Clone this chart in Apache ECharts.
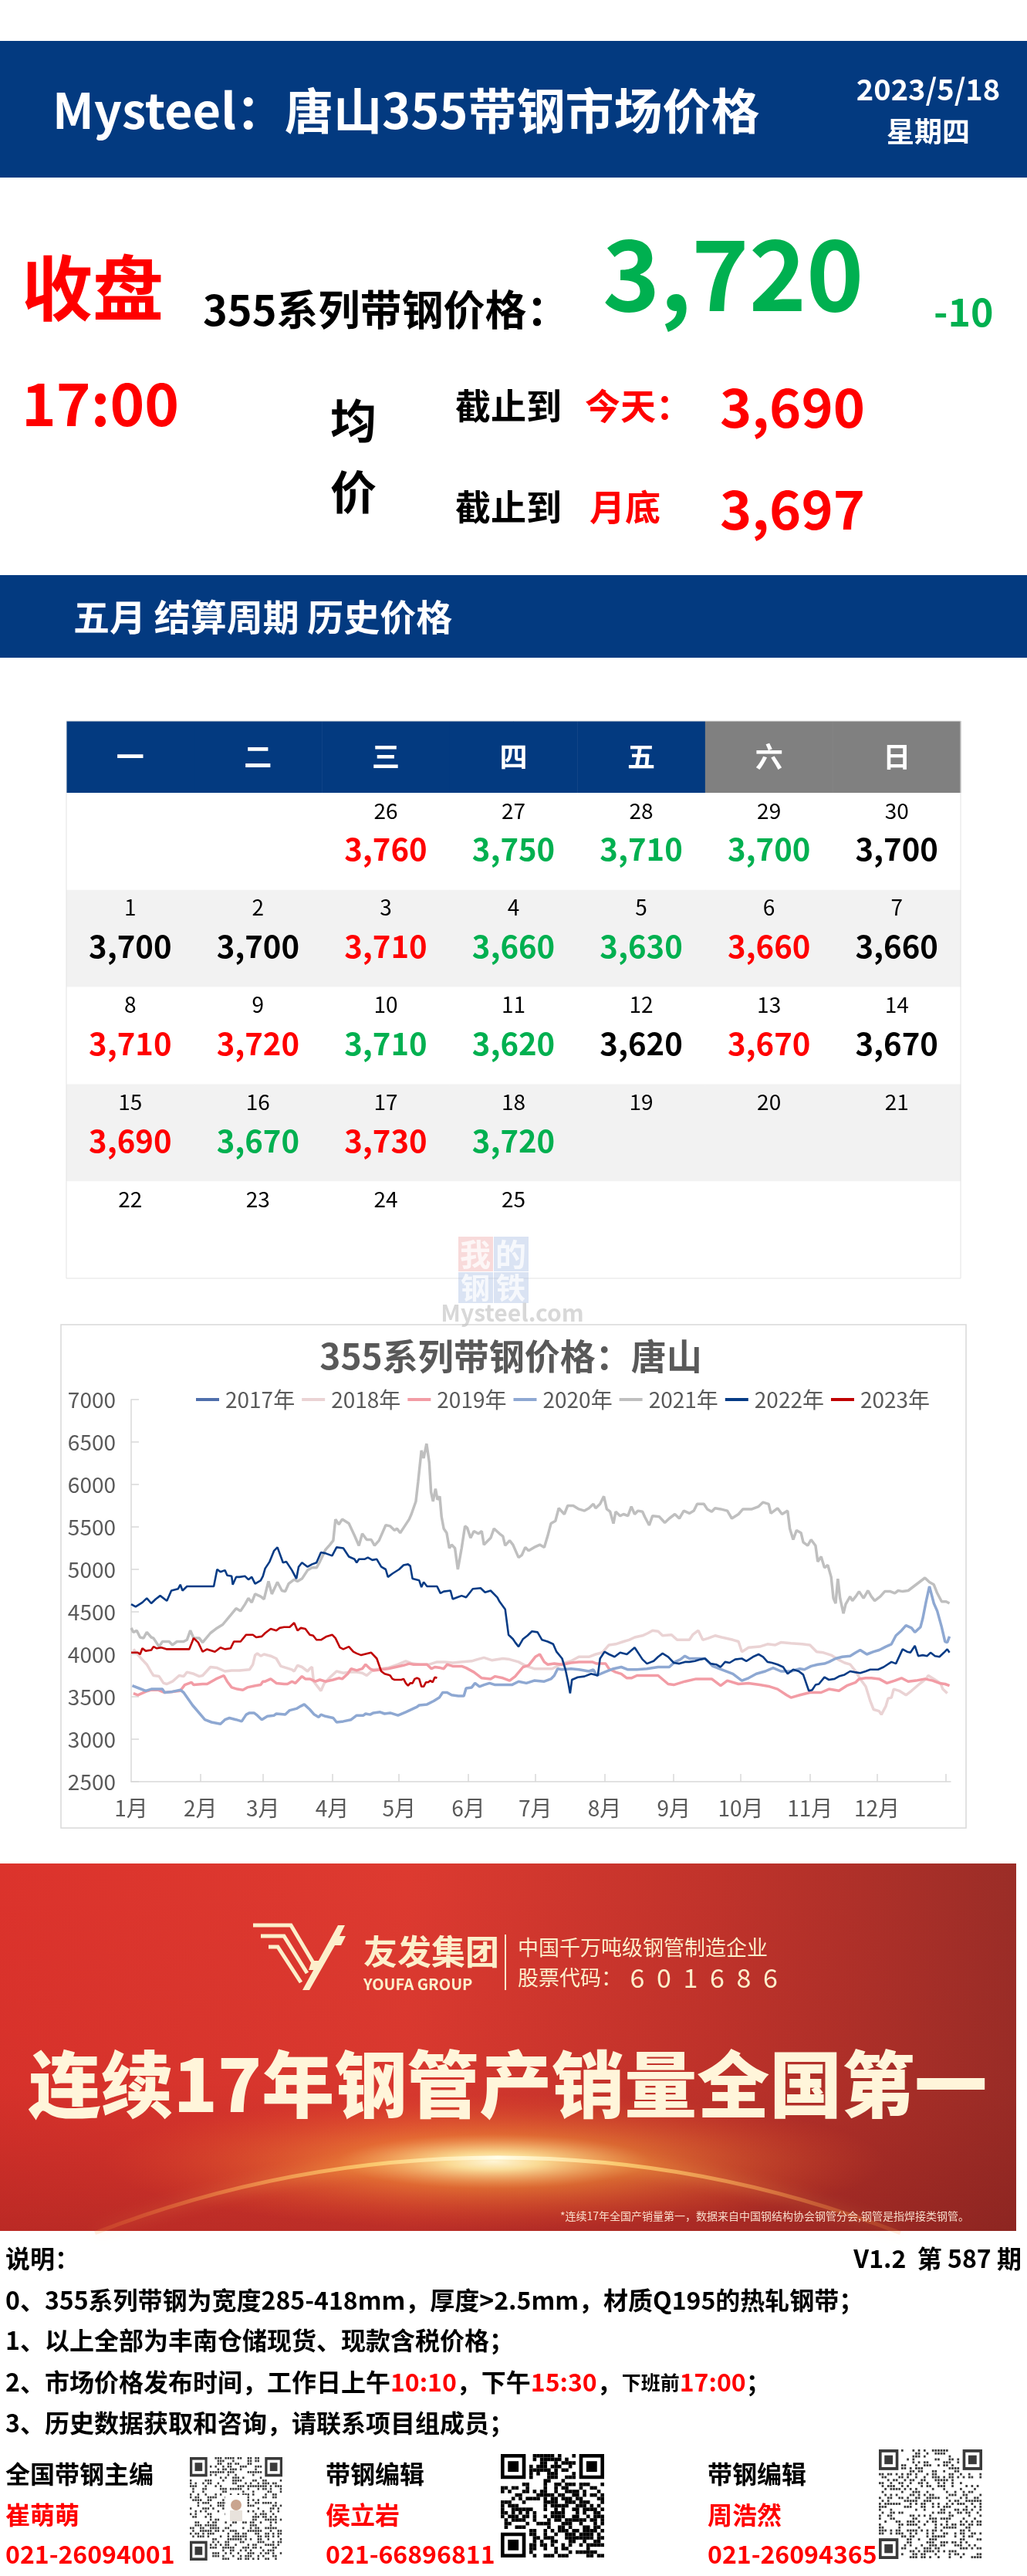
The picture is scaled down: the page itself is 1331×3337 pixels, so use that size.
<!DOCTYPE html>
<html><head><meta charset="utf-8">
<script src="https://cdn.jsdelivr.net/npm/echarts@6.0.0/dist/echarts.min.js"></script>
<style>html,body{margin:0;padding:0;background:#fff}#main{width:1331px;height:3337px}</style>
</head><body><div id="main"></div>
<script>
// ---------------- data ----------------
const weekdays = ['一','二','三','四','五','六','日'];
const calDays = ['','',26,27,28,29,30, 1,2,3,4,5,6,7, 8,9,10,11,12,13,14, 15,16,17,18,19,20,21, 22,23,24,25,'','',''];
const calValues = [null,null,3760,3750,3710,3700,3700, 3700,3700,3710,3660,3630,3660,3660, 3710,3720,3710,3620,3620,3670,3670, 3690,3670,3730,3720,null,null,null, null,null,null,null,null,null,null];
const calTrend = ['','','up','down','down','down','flat', 'flat','flat','up','down','down','up','flat', 'up','up','down','down','flat','up','flat', 'up','down','up','down','','','', '','','','','','',''];

const closePrice = 3720, closeChange = -10, avgToday = 3690, avgMonth = 3697;

const legendNames = ['2017年','2018年','2019年','2020年','2021年','2022年','2023年'];
const monthStarts = [0,31,59,90,120,151,181,212,243,273,304,334];
const monthLabels = ['1月','2月','3月','4月','5月','6月','7月','8月','9月','10月','11月','12月'];
const monthEnds = [31,59,90,120,151,181,212,243,273,304,334,365];

const s2017 = [];
const s2018 = [[1,4060],[4.5,3950],[7,3880],[9,3790],[10,3750],[12.5,3740],[14.5,3660],[16,3650],[18.5,3680],[21.5,3750],[23.5,3740],[25,3790],[28,3770],[30.5,3740],[32,3750],[35.5,3850],[38.5,3840],[42,3800],[45,3810],[48.5,3810],[53,3820],[54.5,3880],[55.5,3990],[56.5,4010],[58,3980],[59.5,4000],[62.5,3980],[65,3950],[67,3860],[69.5,3840],[72,3820],[73,3800],[74.5,3870],[76.5,3850],[79,3800],[80,3830],[81,3850],[81.7,3680],[83.5,3620],[85,3570],[86.5,3660],[89.5,3740],[92,3800],[95,3780],[98,3790],[101,3790],[103.5,3780],[105.5,3750],[108.5,3820],[112,3830],[115,3840],[119.5,3880],[123,3920],[126,3890],[129.5,3880],[133.5,3880],[137,3910],[140.5,3910],[144,3900],[147.5,3910],[152.5,3920],[155,3940],[158,3960],[161.5,3930],[166.5,3950],[169.5,3940],[173.5,3910],[177,3860],[180.5,3830],[185,3830],[188.5,3830],[193,3890],[197,3920],[200.5,3970],[205,3970],[208,4000],[211,4020],[213,4080],[214,4110],[217,4120],[220.5,4150],[223,4170],[225.5,4200],[229,4220],[231.5,4250],[233.5,4280],[236,4270],[238,4220],[242,4230],[244.5,4170],[250,4170],[251.5,4230],[254,4280],[256,4170],[258.5,4190],[261.5,4220],[264.5,4200],[269.5,4170],[272,4150],[273.5,4030],[276.5,4080],[281.5,4090],[285,4120],[288.5,4110],[291,4140],[295.5,4130],[300.5,4120],[304,4110],[307,4030],[310,4020],[313.5,3990],[316.5,3940],[319.5,3900],[322,3880],[324.5,3800],[326.5,3710],[329,3620],[331,3450],[332.5,3350],[335,3330],[336,3290],[338,3390],[339,3480],[340.5,3490],[341.5,3590],[344,3570],[347,3520],[349.5,3570],[353,3650],[356,3710],[357,3750],[359.5,3710],[362.5,3660],[363.5,3590],[365.5,3540]];
const s2019 = [[1,3540],[3,3520],[6.5,3560],[9,3580],[12,3580],[15,3550],[18.5,3560],[22,3570],[24,3640],[27,3670],[28,3640],[32,3650],[34,3650],[38,3710],[41.5,3750],[43,3680],[45,3610],[47.5,3590],[50,3580],[52,3610],[55.5,3630],[58,3640],[59,3680],[60,3680],[62.5,3710],[65,3660],[68.5,3650],[70,3650],[72,3680],[73.5,3660],[76.5,3740],[78,3710],[80,3710],[82.5,3680],[84.5,3700],[87,3680],[90.5,3700],[93,3720],[94.5,3710],[97,3770],[98.5,3830],[101,3810],[103.5,3830],[105,3880],[107,3830],[108.5,3810],[112,3820],[115,3830],[118.5,3850],[122,3870],[124.5,3890],[126.5,3880],[132.5,3880],[134.5,3830],[136,3850],[138.5,3840],[140,3830],[141.5,3880],[144,3860],[148,3860],[150,3840],[153.5,3790],[157,3720],[161,3710],[163,3740],[166.5,3720],[169.5,3690],[172,3740],[175.5,3850],[178,3870],[181,3970],[183,4000],[185,3910],[186.5,3880],[189.5,3890],[193,3880],[197,3900],[200.5,3910],[204,3910],[206.5,3910],[208.5,3890],[212.5,3890],[214,3830],[217,3790],[219.5,3770],[222,3720],[224,3720],[226.5,3750],[231,3750],[236,3750],[240.5,3650],[243,3640],[248,3680],[253,3710],[256.5,3710],[260,3710],[264,3630],[267,3690],[272,3650],[276.5,3660],[281.5,3640],[286,3620],[289.5,3590],[293.5,3520],[295.5,3490],[299.5,3520],[304,3550],[309,3550],[312.5,3590],[317,3570],[320.5,3630],[324.5,3670],[326,3710],[329,3720],[331.5,3720],[335,3710],[338.5,3660],[342,3690],[345,3720],[348,3680],[351.5,3690],[355.5,3710],[359,3690],[362,3660],[364.5,3650],[366.5,3630]];
const s2020 = [[0.5,3630],[3.5,3600],[6.5,3570],[9,3590],[12,3590],[14,3590],[15,3550],[18.5,3560],[22,3580],[23.5,3550],[27.5,3400],[33,3230],[36,3200],[40,3180],[42,3230],[44,3250],[47,3230],[49.5,3210],[51.5,3290],[53,3310],[55,3310],[56.5,3280],[58.5,3230],[61,3270],[64,3280],[65,3300],[69,3290],[71,3340],[74,3360],[76,3390],[77.5,3410],[80,3350],[82,3290],[84,3260],[85,3290],[87,3270],[90.5,3250],[92,3200],[95,3210],[98.5,3230],[101,3280],[104,3280],[105,3300],[107,3290],[108.5,3310],[111.5,3320],[113.5,3300],[116,3310],[119.5,3280],[123,3320],[128,3380],[129,3400],[132.5,3410],[135.5,3450],[138,3490],[139.5,3550],[141.5,3550],[143.5,3520],[146.5,3510],[149,3510],[150,3600],[152.5,3610],[154,3660],[156,3620],[158,3640],[160.5,3660],[163,3640],[166.5,3640],[170.5,3640],[173.5,3680],[177,3660],[180.5,3690],[185,3680],[188,3710],[189.5,3750],[191,3830],[193,3820],[197,3830],[200.5,3820],[205,3800],[207,3820],[208.5,3750],[212,3790],[216,3830],[219.5,3850],[222.5,3820],[226.5,3820],[231,3830],[236,3850],[241,3850],[243.5,3910],[246,3940],[248,3980],[250,3950],[253,3950],[257,3950],[260.5,3860],[264.5,3820],[269.5,3770],[273.5,3690],[276.5,3720],[280,3770],[284,3800],[287.5,3840],[291,3800],[295.5,3800],[299.5,3830],[301.5,3820],[304.5,3860],[307.5,3880],[310.5,3890],[312.5,3910],[315.5,3950],[318.5,3970],[322,3980],[324.5,4020],[326.5,4050],[329.5,4000],[332.5,4030],[335,4050],[338,4090],[340.5,4120],[342.5,4220],[345,4280],[347,4340],[349.5,4310],[351,4260],[353.5,4320],[354.5,4420],[356,4620],[357.5,4800],[359.5,4600],[361,4510],[363,4320],[364.5,4150],[365.5,4140],[366.5,4210]];
const s2021 = [[0,4310],[1,4260],[2.5,4280],[4,4200],[5.5,4190],[7,4260],[9,4200],[10,4190],[12.5,4090],[14,4150],[17,4150],[18.5,4110],[20.5,4150],[23.5,4150],[25,4170],[26.5,4280],[28,4190],[30.5,4190],[32,4140],[35.5,4250],[38.5,4310],[41,4350],[44.5,4460],[47,4540],[49,4510],[51,4590],[52.5,4660],[54,4610],[55.5,4710],[58,4680],[59.5,4650],[61.5,4860],[63,4710],[65.5,4850],[67.5,4750],[69,4740],[70.5,4830],[73,4880],[74.5,4860],[76.5,4890],[79,4990],[81,5020],[83,5020],[84.5,5090],[87,5230],[89,5290],[90.5,5340],[91.5,5590],[93,5530],[94.5,5590],[97.5,5540],[100,5400],[102,5280],[103.5,5420],[105.5,5350],[107.5,5350],[109,5280],[111,5340],[114,5520],[116,5510],[118,5460],[119,5480],[120.5,5430],[122,5490],[124.5,5590],[125.5,5650],[127.5,5800],[128.5,6030],[130,6400],[131,6310],[132.3,6480],[133.5,6260],[134.3,5910],[135.2,5800],[136.3,5950],[137.2,5820],[138.2,5860],[139,5620],[140,5480],[141.3,5430],[142.5,5250],[143.5,5290],[145,5250],[146.3,5000],[148,5250],[149.5,5510],[150.5,5490],[152,5370],[153.5,5450],[155.5,5420],[157,5450],[158,5290],[161,5370],[162.5,5480],[165,5420],[166.5,5390],[167.5,5280],[169.5,5340],[171,5290],[173.5,5140],[175,5170],[176.5,5260],[178,5220],[180.5,5260],[183,5290],[185,5260],[186.5,5390],[188,5540],[190,5570],[191.5,5720],[194,5650],[195.5,5750],[198,5750],[200.5,5710],[203,5690],[205,5720],[207,5770],[208,5720],[210,5770],[211.7,5860],[213,5710],[214.5,5680],[216,5540],[217,5680],[219,5630],[220.5,5650],[222.5,5630],[224,5740],[225.5,5650],[227,5690],[229,5680],[230,5620],[232,5520],[233.5,5630],[236.5,5620],[239,5550],[241,5600],[243.5,5650],[245.5,5600],[247.5,5690],[250,5660],[252,5690],[253.5,5770],[256.5,5770],[258,5710],[260,5680],[261.5,5720],[264,5710],[267,5690],[269,5600],[272,5650],[274,5710],[278,5710],[281,5740],[283,5790],[285.5,5770],[286.5,5660],[289.5,5720],[291.5,5650],[294,5690],[295,5480],[296.5,5350],[298,5460],[300,5430],[301,5320],[303,5280],[304.5,5350],[306.5,5280],[307.5,5090],[309,5150],[310.5,5020],[312,5050],[313.5,4910],[314.5,4660],[315.5,4600],[316.5,4890],[317.5,4660],[319,4480],[320,4590],[322,4680],[323,4630],[324.5,4680],[326,4740],[328,4660],[330,4750],[331.5,4680],[333,4630],[335.5,4680],[337.5,4740],[340,4740],[342,4720],[343.5,4750],[345.5,4740],[348,4750],[350.5,4800],[353,4850],[355.5,4900],[357.5,4850],[359.5,4820],[361,4720],[363,4620],[365,4620],[366.5,4600]];
const s2022 = [[0,4590],[2,4560],[5,4610],[7,4660],[9,4600],[11,4650],[13,4690],[16,4630],[18,4750],[21,4770],[22,4820],[23,4750],[25,4800],[28,4800],[37,4800],[38.5,5000],[40,4970],[42,4990],[43,4930],[45,4920],[45.5,4820],[47,4910],[48.5,4910],[51,4920],[52.5,4880],[54,4910],[55.5,4830],[58,4870],[59,4920],[60,5010],[62,5090],[64,5220],[65.5,5260],[68,5080],[69.5,5090],[72,4990],[74,4890],[75,5030],[76.5,5080],[79,5030],[81,5060],[83,5080],[85,5200],[87,5190],[90,5160],[92,5260],[95,5250],[97.5,5150],[100,5120],[101,5080],[102,5120],[104.5,5120],[106,5140],[108,5110],[110,5120],[112,5030],[114,5000],[115,4910],[117,4950],[120,5000],[122,5050],[124,5060],[125,5040],[126,4890],[129,4870],[130,4790],[131,4850],[132.5,4800],[137,4800],[138.5,4720],[140,4740],[143,4750],[144,4650],[146,4670],[148,4690],[150,4670],[153,4770],[156.5,4780],[158.5,4730],[161,4750],[164,4670],[165,4620],[167.5,4530],[169,4230],[171,4180],[172,4140],[173.5,4090],[175.5,4180],[177.5,4220],[179.5,4270],[182,4260],[184,4170],[186.5,4150],[189,4120],[190.5,4030],[193,3950],[194.5,3820],[195.7,3670],[196.6,3540],[197.4,3700],[200,3730],[203,3740],[206,3770],[209,3750],[210,3950],[212,4030],[214,4000],[216.5,3970],[219,4020],[222,4000],[225.5,4080],[229,3940],[231,3890],[234,3920],[236,3970],[238,4010],[240.5,3970],[243,3900],[245.5,3890],[248,3910],[250,3910],[252.5,3920],[255,3940],[257,3950],[259.5,3890],[262,3880],[264,3850],[266,3910],[268,3900],[270.5,3940],[273.5,3950],[275.5,3920],[278.5,3970],[281,4000],[283,3970],[285,3910],[287,3900],[289.5,3880],[292,3850],[294,3770],[296.5,3820],[299,3800],[301,3760],[303.5,3570],[305,3580],[306.5,3640],[308,3650],[310.5,3730],[312.5,3700],[315,3710],[317,3740],[319.5,3760],[322,3800],[324,3790],[326.5,3780],[329,3800],[331,3820],[334.5,3820],[337,3850],[340.5,3910],[342.5,3890],[345.5,4060],[347.5,4030],[349,4020],[351,4100],[352.5,3980],[354.5,3990],[356.5,3980],[358,4020],[360,3980],[362,3970],[364,4020],[365.5,4060],[366.5,4020]];
const s2023 = [[0,4020],[3,4020],[4,4000],[5,4070],[6.5,4040],[9,4050],[10,4090],[11.5,4070],[13.5,4080],[16,4060],[26,4060],[28,4190],[30,4140],[32,4030],[34,4060],[37.5,4030],[40,4080],[42,4060],[44.5,4070],[46,4150],[49,4150],[51.5,4230],[54.5,4230],[56,4200],[58.5,4210],[60,4250],[62.5,4300],[65,4280],[66.5,4310],[68.5,4320],[71,4320],[73,4370],[74.5,4280],[76,4310],[78,4300],[80,4230],[81.5,4220],[83,4170],[85,4170],[87.5,4210],[90,4230],[91.5,4190],[93.5,4080],[95,4060],[97.5,4090],[99.5,4030],[101,4010],[103,3990],[107.5,4020],[110,3950],[112,3800],[113.5,3770],[115,3760],[116,3750],[117,3710],[118,3700],[119,3700],[120,3700],[121,3700],[122,3710],[123,3660],[124,3630],[125,3660],[126,3660],[127,3710],[128,3720],[129,3710],[130,3620],[131,3620],[132,3670],[133,3670],[134,3690],[135,3670],[136,3730],[137,3720]];

// ---------------- helpers ----------------
const FONT = '"Noto Sans CJK SC","Noto Sans",sans-serif';
const BLUE = '#033A80', RED = '#FF0000', GREEN = '#00B050';
function txt(text, x, y, size, color, o) {
  o = o || {};
  const a = o.a || 'left';
  const st = {text: String(text), fill: color, font: (o.w || 'bold') + ' ' + size + 'px ' + FONT,
    textAlign: a, textVerticalAlign: 'middle', align: a, verticalAlign: 'middle'};
  if (o.rich) st.rich = o.rich;
  if (o.opacity != null) st.opacity = o.opacity;
  if (o.shadow) { st.shadowColor = o.shadow; st.shadowBlur = 6; st.shadowOffsetY = 2; }
  return {type: 'text', x: x, y: y, z: o.z != null ? o.z : 5, silent: true, style: st};
}
function rect(x, y, w, h, fill, o) {
  o = o || {};
  return {type: 'rect', z: o.z != null ? o.z : 1, silent: true, shape: {x: x, y: y, width: w, height: h},
    style: {fill: fill, stroke: o.stroke || null, lineWidth: o.lw || 0, opacity: o.opacity != null ? o.opacity : 1}};
}
function fmt(v) { return v.toLocaleString('en-US'); }
function hash(i, j, seed) {
  let h = Math.imul(i + 1, 374761393) ^ Math.imul(j + 7, 668265263) ^ Math.imul(seed, 2246822519);
  h = Math.imul(h ^ (h >>> 13), 1274126177);
  return ((h ^ (h >>> 16)) >>> 0) % 100;
}
function qr(x0, y0, w, h, n, color, seed, density, shrink) {
  const els = [];
  const mw = w / n, mh = h / n;
  const inF = (i, j) => (i < 8 && j < 8) || (i >= n - 8 && j < 8) || (i < 8 && j >= n - 8);
  for (let i = 0; i < n; i++) for (let j = 0; j < n; j++) {
    if (inF(i, j)) continue;
    if (hash(i, j, seed) < density) {
      els.push(rect(x0 + i * mw, y0 + j * mh, mw * shrink, mh * shrink, color, {z: 6}));
    }
  }
  [[0, 0], [n - 7, 0], [0, n - 7]].forEach(p => {
    els.push(rect(x0 + p[0] * mw, y0 + p[1] * mh, 7 * mw, 7 * mh, color, {z: 6}));
    els.push(rect(x0 + (p[0] + 1) * mw, y0 + (p[1] + 1) * mh, 5 * mw, 5 * mh, '#fff', {z: 7}));
    els.push(rect(x0 + (p[0] + 2) * mw, y0 + (p[1] + 2) * mh, 3 * mw, 3 * mh, color, {z: 8}));
  });
  return els;
}

// ---------------- graphic layout ----------------
const G = [];
// header banner
G.push(rect(0, 53, 1331, 177, BLUE));
G.push(txt('Mysteel：唐山355带钢市场价格', 68, 143, 63, '#fff'));
G.push(txt('2023/5/18', 1203, 116, 38, '#fff', {a: 'center'}));
G.push(txt('星期四', 1203, 170, 36, '#fff', {a: 'center'}));
// closing price block
G.push(txt('收盘', 28, 373, 92, RED));
G.push(txt('355系列带钢价格：', 263, 401, 54, '#000'));
G.push(txt(fmt(closePrice), 781, 355, 126, GREEN));
G.push(txt(String(closeChange), 1210, 404, 50, GREEN));
G.push(txt('17:00', 28, 523, 76, RED));
G.push(txt('均', 458, 545, 60, '#000', {a: 'center'}));
G.push(txt('价', 458, 637, 60, '#000', {a: 'center'}));
G.push(txt('截止到', 590, 526, 46, '#000'));
G.push(txt('今天：', 758, 526, 46, RED));
G.push(txt(fmt(avgToday), 1027, 527, 70, RED, {a: 'center'}));
G.push(txt('截止到', 590, 657, 46, '#000'));
G.push(txt('月底', 764, 657, 46, RED));
G.push(txt(fmt(avgMonth), 1027, 659, 70, RED, {a: 'center'}));
// section bar
G.push(rect(0, 745, 1331, 107, BLUE));
G.push(txt('五月 结算周期 历史价格', 95, 799, 47, '#fff'));
// calendar border
G.push({type: 'rect', z: 9, silent: true, shape: {x: 86, y: 934, width: 1159, height: 722}, style: {fill: null, stroke: '#E3E3E3', lineWidth: 1}});
// watermark
G.push(rect(594, 1602, 45, 45, 'rgba(236,150,150,0.35)', {z: 20}));
G.push(rect(640, 1602, 45, 45, 'rgba(150,175,220,0.35)', {z: 20}));
G.push(rect(594, 1648, 45, 40, 'rgba(150,175,220,0.35)', {z: 20}));
G.push(rect(640, 1648, 45, 40, 'rgba(150,175,220,0.35)', {z: 20}));
G.push(txt('我', 616, 1625, 40, 'rgba(255,255,255,0.75)', {a: 'center', z: 21}));
G.push(txt('的', 662, 1625, 40, 'rgba(255,255,255,0.75)', {a: 'center', z: 21}));
G.push(txt('钢', 616, 1668, 38, 'rgba(255,255,255,0.75)', {a: 'center', z: 21}));
G.push(txt('铁', 662, 1668, 38, 'rgba(255,255,255,0.75)', {a: 'center', z: 21}));
G.push(txt('Mysteel.com', 664, 1701, 30, 'rgba(190,190,190,0.6)', {a: 'center', z: 21}));
// line chart frame + title
G.push({type: 'rect', z: 0, silent: true, shape: {x: 79, y: 1716, width: 1173, height: 652}, style: {fill: '#fff', stroke: '#D9D9D9', lineWidth: 1.5}});
G.push(txt('355系列带钢价格：唐山', 662, 1757, 46, '#595959', {a: 'center'}));

// ad banner
G.push({type: 'rect', z: 1, silent: true, shape: {x: 0, y: 2414, width: 1317, height: 476},
  style: {fill: {type: 'linear', x: 0, y: 0, x2: 1, y2: 0, colorStops: [
    {offset: 0, color: '#DC332C'}, {offset: 0.4, color: '#DD3A30'}, {offset: 0.7, color: '#C1332B'}, {offset: 1, color: '#9B2D27'}]}}});
G.push({type: 'rect', z: 1, silent: true, shape: {x: 0, y: 2414, width: 1317, height: 476},
  style: {fill: {type: 'linear', x: 0, y: 0, x2: 0, y2: 1, colorStops: [
    {offset: 0, color: 'rgba(120,20,20,0)'}, {offset: 0.6, color: 'rgba(120,20,20,0.05)'}, {offset: 1, color: 'rgba(110,20,20,0.3)'}]}}});
G.push({type: 'circle', z: 2, silent: true, x: 640, y: 2800, scaleX: 2.6, scaleY: 0.45, shape: {cx: 0, cy: 0, r: 195},
  style: {fill: {type: 'radial', x: 0.5, y: 0.5, r: 0.5, colorStops: [
    {offset: 0, color: 'rgba(255,255,240,1)'}, {offset: 0.12, color: 'rgba(255,240,170,0.9)'},
    {offset: 0.4, color: 'rgba(255,170,60,0.45)'}, {offset: 1, color: 'rgba(240,90,40,0)'}]}}});
G.push({type: 'arc', z: 3, silent: true, shape: {cx: 645, cy: 4238, r: 1443, startAngle: -Math.PI / 2 - 0.37, endAngle: -Math.PI / 2 + 0.37},
  style: {fill: null, lineWidth: 5, stroke: {type: 'linear', x: 0, y: 0, x2: 1, y2: 0, colorStops: [
    {offset: 0, color: 'rgba(255,150,60,0.15)'}, {offset: 0.35, color: 'rgba(255,215,120,0.8)'}, {offset: 0.5, color: 'rgba(255,255,235,1)'},
    {offset: 0.65, color: 'rgba(255,215,120,0.8)'}, {offset: 1, color: 'rgba(255,150,60,0.15)'}]},
    shadowBlur: 18, shadowColor: 'rgba(255,200,90,0.9)'}});
// emblem
const CREAM = '#FCEFCB';
G.push({type: 'polyline', z: 4, silent: true, shape: {points: [[328, 2494], [377, 2494], [408, 2546]]}, style: {stroke: CREAM, lineWidth: 5, fill: null}});
G.push({type: 'polyline', z: 4, silent: true, shape: {points: [[338, 2508], [368, 2508], [398, 2556]]}, style: {stroke: CREAM, lineWidth: 5, fill: null}});
G.push({type: 'polyline', z: 4, silent: true, shape: {points: [[348, 2522], [360, 2522], [390, 2568]]}, style: {stroke: CREAM, lineWidth: 5, fill: null}});
G.push({type: 'polygon', z: 4, silent: true, shape: {points: [[392, 2578], [438, 2494], [447, 2494], [440, 2508], [448, 2508], [442, 2520], [434, 2520], [401, 2578]]}, style: {fill: CREAM}});
G.push({type: 'polygon', z: 4, silent: true, shape: {points: [[404, 2540], [420, 2540], [415, 2552], [400, 2552]]}, style: {fill: CREAM}});
G.push(txt('友发集团', 471, 2528, 44, CREAM));
G.push(txt('YOUFA GROUP', 471, 2570, 20, CREAM));
G.push(rect(654, 2506, 2, 72, CREAM, {z: 4}));
G.push(txt('中国千万吨级钢管制造企业', 671, 2523, 27, CREAM, {w: 'normal'}));
G.push(txt('股票代码：', 671, 2562, 27, CREAM, {w: 'normal'}));
'601686'.split('').forEach((d, k) => G.push(txt(d, 826 + k * 34.5, 2562, 34, CREAM, {w: 'normal', a: 'center'})));
G.push(txt('连续17年钢管产销量全国第一', 658, 2700, 94, '#FFF5DA', {a: 'center', w: '900', shadow: 'rgba(110,10,10,0.45)'}));
G.push(txt('*连续17年全国产销量第一，数据来自中国钢结构协会钢管分会,钢管是指焊接类钢管。', 726, 2871, 14, 'rgba(255,238,220,0.9)', {w: 'normal'}));

// notes
G.push(txt('说明：', 7, 2926, 32, '#000'));
G.push(txt('V1.2  第 587 期', 1324, 2926, 32, '#000', {a: 'right'}));
G.push(txt('0、355系列带钢为宽度285-418mm，厚度>2.5mm，材质Q195的热轧钢带；', 7, 2980, 32, '#000'));
G.push(txt('1、以上全部为丰南仓储现货、现款含税价格；', 7, 3032, 32, '#000'));
G.push(txt('2、市场价格发布时间，工作日上午{r|10:10}，下午{r|15:30}，{s|下班前}{r|17:00}；', 7, 3086, 32, '#000', {rich: {
  r: {fill: RED, color: RED, font: 'bold 32px ' + FONT},
  s: {fill: '#000', color: '#000', font: 'bold 25px ' + FONT}}}));
G.push(txt('3、历史数据获取和咨询，请联系项目组成员；', 7, 3139, 32, '#000'));
// contacts
[[7, '全国带钢主编', '崔萌萌', '021-26094001'], [422, '带钢编辑', '侯立岩', '021-66896811'], [917, '带钢编辑', '周浩然', '021-26094365']].forEach(c => {
  G.push(txt(c[1], c[0], 3205, 32, '#000'));
  G.push(txt(c[2], c[0], 3258, 32, RED));
  G.push(txt(c[3], c[0], 3309, 32, RED));
});
qr(246, 3183, 120, 134, 37, '#3A3A3A', 11, 42, 0.75).forEach(e => G.push(e));
G.push(rect(292, 3232, 28, 34, '#fff', {z: 9}));
G.push({type: 'circle', z: 10, silent: true, shape: {cx: 306, cy: 3245, r: 7}, style: {fill: '#C9A48F'}});
G.push({type: 'rect', z: 10, silent: true, shape: {x: 298, y: 3252, width: 16, height: 14}, style: {fill: '#E8E2DC'}});
qr(649, 3179, 134, 134, 29, '#000', 23, 50, 1).forEach(e => G.push(e));
qr(1139, 3173, 134, 142, 37, '#3A3A3A', 37, 42, 0.75).forEach(e => G.push(e));

// ---------------- calendar (custom series on category axes) ----------------
const headerData = weekdays.map((w, i) => [i, 0]);
const bodyData = calDays.map((d, i) => [i % 7, Math.floor(i / 7)]);
const trendColor = {up: RED, down: GREEN, flat: '#000', '': '#000'};

function headerItem(params, api) {
  const c = api.coord([api.value(0), api.value(1)]);
  const s = api.size([1, 1]);
  const i = params.dataIndex;
  return {type: 'group', children: [
    {type: 'rect', shape: {x: c[0] - s[0] / 2, y: c[1] - s[1] / 2, width: s[0] + 0.5, height: s[1]}, style: {fill: i < 5 ? BLUE : '#808080'}},
    {type: 'text', x: c[0], y: c[1], style: {text: weekdays[i], fill: '#fff', font: 'bold 36px ' + FONT,
      textAlign: 'center', textVerticalAlign: 'middle', align: 'center', verticalAlign: 'middle'}}
  ]};
}
function bodyItem(params, api) {
  const col = api.value(0), row = api.value(1);
  const c = api.coord([col, row]);
  const s = api.size([1, 1]);
  const i = params.dataIndex;
  const top = c[1] - s[1] / 2;
  const ch = [{type: 'rect', shape: {x: c[0] - s[0] / 2, y: top, width: s[0] + 0.5, height: s[1] + 0.5}, style: {fill: row % 2 ? '#F2F2F2' : '#FFFFFF'}}];
  if (calDays[i] !== '') ch.push({type: 'text', x: c[0], y: top + 23, style: {text: String(calDays[i]), fill: '#000',
    font: 'normal 28px ' + FONT, textAlign: 'center', textVerticalAlign: 'middle', align: 'center', verticalAlign: 'middle'}});
  if (calValues[i] != null) ch.push({type: 'text', x: c[0], y: top + 73, style: {text: fmt(calValues[i]), fill: trendColor[calTrend[i]],
    font: 'bold 40px ' + FONT, textAlign: 'center', textVerticalAlign: 'middle', align: 'center', verticalAlign: 'middle'}});
  return {type: 'group', children: ch};
}

// ---------------- chart ----------------
const palette = ['#4F6FAC', '#EAD3D4', '#F29CA5', '#8EA8D2', '#BFBFBF', '#063B85', '#C00000'];
const widths = [3.5, 3.5, 3.5, 3.5, 3.5, 2.6, 2.6];
const lineData = [s2017, s2018, s2019, s2020, s2021, s2022, s2023];
const lineSeries = legendNames.map((name, k) => ({
  type: 'line', name: name, xAxisIndex: 2, yAxisIndex: 2, data: lineData[k], showSymbol: false, symbol: 'none',
  lineStyle: {width: widths[k], color: palette[k]}, itemStyle: {color: palette[k]}, z: 3 + k, silent: true, animation: false
}));

const axisGray = '#D9D9D9';
const chart = echarts.init(document.getElementById('main'), null, {renderer: 'canvas'});
chart.setOption({
  animation: false,
  backgroundColor: '#fff',
  textStyle: {fontFamily: FONT},
  graphic: {elements: G},
  grid: [
    {left: 86, top: 934, width: 1159, height: 93, outerBoundsMode: 'none', containLabel: false},
    {left: 86, top: 1027, width: 1159, height: 629, outerBoundsMode: 'none', containLabel: false},
    {left: 170, top: 1813, width: 1062, height: 495, outerBoundsMode: 'none', containLabel: false}
  ],
  legend: {
    data: legendNames, left: 254, top: 1797, itemWidth: 30, itemHeight: 4, itemGap: 9, icon: 'rect', padding: 0,
    selectedMode: false,
    textStyle: {fontSize: 28, color: '#595959', fontFamily: FONT, lineHeight: 32, padding: [0, 0, 0, 3]}
  },
  xAxis: [
    {gridIndex: 0, type: 'category', data: weekdays, show: false},
    {gridIndex: 1, type: 'category', data: weekdays, show: false},
    {gridIndex: 2, type: 'value', min: 0, max: 367, splitLine: {show: false},
      axisLine: {show: true, lineStyle: {color: axisGray, width: 1.5}},
      axisTick: {show: true, inside: true, length: 10, customValues: monthEnds, lineStyle: {color: axisGray, width: 1.5}},
      axisLabel: {customValues: monthStarts, formatter: v => monthLabels[monthStarts.indexOf(Math.round(v))],
        color: '#595959', fontSize: 28, margin: 20, fontFamily: FONT}}
  ],
  yAxis: [
    {gridIndex: 0, type: 'category', data: ['h'], show: false},
    {gridIndex: 1, type: 'category', data: ['1', '2', '3', '4', '5'], inverse: true, show: false},
    {gridIndex: 2, type: 'value', min: 2500, max: 7000, interval: 500, splitLine: {show: false},
      axisLine: {show: true, lineStyle: {color: axisGray, width: 1.5}},
      axisTick: {show: true, inside: true, length: 10, lineStyle: {color: axisGray, width: 1.5}},
      axisLabel: {color: '#595959', fontSize: 28, margin: 20, fontFamily: FONT, formatter: v => String(v)}}
  ],
  series: [
    {type: 'custom', xAxisIndex: 0, yAxisIndex: 0, data: headerData, renderItem: headerItem, silent: true, z: 2},
    {type: 'custom', xAxisIndex: 1, yAxisIndex: 1, data: bodyData, renderItem: bodyItem, silent: true, z: 2}
  ].concat(lineSeries)
});
</script>
</body></html>
